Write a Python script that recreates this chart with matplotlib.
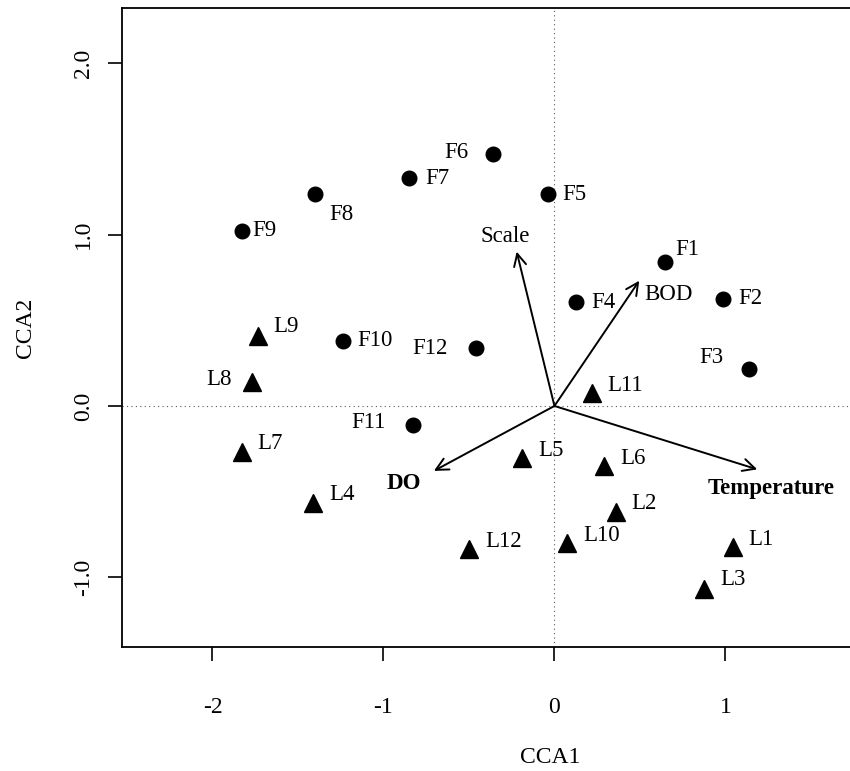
import matplotlib
matplotlib.use("Agg")
import matplotlib.pyplot as plt

plt.rcParams['font.family'] = ['Liberation Serif', 'DejaVu Serif']

# --- data ---
site_f = ["F1", "F2", "F3", "F4", "F5", "F6", "F7", "F8", "F9", "F10", "F11", "F12"]
f_x = [0.646, 0.984, 1.139, 0.126, -0.040, -0.358, -0.849, -1.401, -1.829, -1.239, -0.826, -0.461]
f_y = [0.842, 0.625, 0.214, 0.605, 1.236, 1.471, 1.329, 1.236, 1.023, 0.381, -0.111, 0.337]

site_l = ["L1", "L2", "L3", "L4", "L5", "L6", "L7", "L8", "L9", "L10", "L11", "L12"]
l_x = [1.044, 0.360, 0.875, -1.411, -0.188, 0.291, -1.829, -1.771, -1.732, 0.075, 0.218, -0.498]
l_y = [-0.826, -0.617, -1.068, -0.565, -0.305, -0.350, -0.267, 0.142, 0.409, -0.802, 0.074, -0.837]

env_vars = ["Scale", "BOD", "Temperature", "DO"]
env_x = [-0.221, 0.496, 1.186, -0.705]
env_y = [0.901, 0.731, -0.370, -0.379]

x_ticks = [-2, -1, 0, 1]
y_ticks = [-1.0, 0.0, 1.0, 2.0]
y_ticklabels = ["-1.0", "0.0", "1.0", "2.0"]

# --- label placement (offsets in pixels, label centre relative to point) ---
f_off = {"F1": (22, 12), "F2": (28, 0), "F3": (-38, 12), "F4": (27, 0), "F5": (27, 0),
         "F6": (-37, 1), "F7": (28, 0), "F8": (27, -20), "F9": (23, 0), "F10": (32, 0),
         "F11": (-45, 2), "F12": (-46, 0)}
l_off = {"L1": (28, 8), "L2": (28, 8), "L3": (29, 9), "L4": (29, 8), "L5": (29, 8),
         "L6": (29, 7), "L7": (28, 8), "L8": (-33, 2), "L9": (28, 9), "L10": (34, 8),
         "L11": (33, 8), "L12": (34, 8)}
env_off = {"Scale": (-11, 15), "BOD": (29, -14), "Temperature": (14, -19), "DO": (-30, -13)}
env_bold = {"Scale": False, "BOD": False, "Temperature": True, "DO": True}

fig = plt.figure(figsize=(8.5, 7.71), dpi=100)
# plot region extends past the right edge of the image (cropped like the reference)
ax = fig.add_axes([122/850, 1-647/771, (978-122)/850, (647-8)/771])
ax.set_xlim(-2.529, 2.477)
ax.set_ylim(-1.407, 2.323)

ax.axhline(0, color='0.35', lw=0.8, ls=(0, (1, 3)), zorder=1)
ax.axvline(0, color='0.35', lw=0.8, ls=(0, (1, 3)), zorder=1)

ax.plot(f_x, f_y, 'o', color='black', ms=10.5, mec='black', zorder=3)
ax.plot(l_x, l_y, '^', color='black', ms=12.5, mec='black', zorder=3)

fs = 16.5
for name, x, y in zip(site_f, f_x, f_y):
    ax.annotate(name, (x, y), xytext=f_off[name], textcoords='offset pixels',
                ha='center', va='center', fontsize=fs)
for name, x, y in zip(site_l, l_x, l_y):
    ax.annotate(name, (x, y), xytext=l_off[name], textcoords='offset pixels',
                ha='center', va='center', fontsize=fs)

for name, x, y in zip(env_vars, env_x, env_y):
    ax.annotate("", xy=(x, y), xytext=(0, 0),
                arrowprops=dict(arrowstyle='->', color='black', lw=1.4,
                                mutation_scale=22, shrinkA=0, shrinkB=0))
    ax.annotate(name, (x, y), xytext=env_off[name], textcoords='offset pixels',
                ha='center', va='center', fontsize=fs,
                fontweight='bold' if env_bold[name] else 'normal')

ax.set_xticks(x_ticks)
ax.set_xticklabels([str(t) for t in x_ticks])
ax.set_yticks(y_ticks)
ax.set_yticklabels(y_ticklabels, rotation=90, va='center')
ax.tick_params(axis='both', length=10, width=1.2, labelsize=17, direction='out')
ax.tick_params(axis='x', pad=26)
ax.tick_params(axis='y', pad=10)
for s in ax.spines.values():
    s.set_linewidth(1.3)

ax.set_xlabel("CCA1", fontsize=17, labelpad=21)
ax.set_ylabel("CCA2", fontsize=17, labelpad=27)

fig.savefig("out.png", dpi=100)
